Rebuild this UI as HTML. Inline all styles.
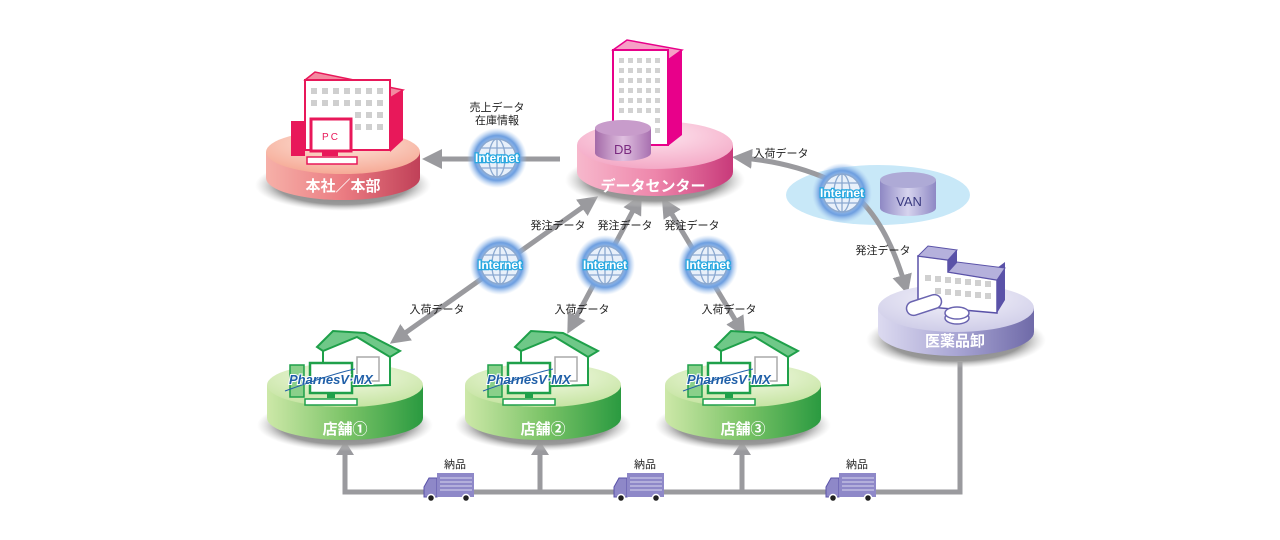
<!DOCTYPE html>
<html><head><meta charset="utf-8"><style>
body{margin:0;background:#fff}
svg{display:block}
text{font-family:"Liberation Sans","Noto Sans CJK JP",sans-serif}
</style></head><body>
<svg width="1280" height="540" viewBox="0 0 1280 540" xmlns="http://www.w3.org/2000/svg">
<defs>
<linearGradient id="gPinkSide" x1="0" x2="1"><stop offset="0" stop-color="#f7b8cc"/><stop offset=".5" stop-color="#ee86ab"/><stop offset="1" stop-color="#c83a7a"/></linearGradient>
<radialGradient id="gPinkTop" cx=".5" cy=".3" r=".7"><stop offset="0" stop-color="#fde4ee"/><stop offset="1" stop-color="#f4a9c6"/></radialGradient>
<linearGradient id="gRedSide" x1="0" x2="1"><stop offset="0" stop-color="#f6b0a8"/><stop offset=".5" stop-color="#eb7c82"/><stop offset="1" stop-color="#c04058"/></linearGradient>
<radialGradient id="gRedTop" cx=".5" cy=".3" r=".7"><stop offset="0" stop-color="#fde6dc"/><stop offset="1" stop-color="#f6aa96"/></radialGradient>
<linearGradient id="gGreenSide" x1="0" x2="1"><stop offset="0" stop-color="#cde8a8"/><stop offset=".5" stop-color="#7cc468"/><stop offset="1" stop-color="#2a9a40"/></linearGradient>
<radialGradient id="gGreenTop" cx=".5" cy=".3" r=".7"><stop offset="0" stop-color="#f4fae6"/><stop offset="1" stop-color="#c6e4a2"/></radialGradient>
<linearGradient id="gPurpSide" x1="0" x2="1"><stop offset="0" stop-color="#dcdaf0"/><stop offset=".5" stop-color="#a9a6d4"/><stop offset="1" stop-color="#6f6aa8"/></linearGradient>
<radialGradient id="gPurpTop" cx=".5" cy=".3" r=".7"><stop offset="0" stop-color="#f4f3fb"/><stop offset="1" stop-color="#cfcde8"/></radialGradient>
<radialGradient id="gShadow" cx=".5" cy=".5" r=".5"><stop offset="0" stop-color="#777"/><stop offset=".75" stop-color="#999"/><stop offset="1" stop-color="#ccc" stop-opacity="0"/></radialGradient>
<radialGradient id="gGlobe" cx=".5" cy=".5" r=".5"><stop offset="0" stop-color="#ffffff"/><stop offset=".45" stop-color="#bcd6f4"/><stop offset=".75" stop-color="#6e9fe0"/><stop offset="1" stop-color="#a8c8f0" stop-opacity="0"/></radialGradient>
<linearGradient id="gDB" x1="0" x2="1"><stop offset="0" stop-color="#a46aa8"/><stop offset=".5" stop-color="#e0c0e0"/><stop offset="1" stop-color="#a870b0"/></linearGradient>
<linearGradient id="gVAN" x1="0" x2="1"><stop offset="0" stop-color="#8e88c4"/><stop offset=".5" stop-color="#d6d3ee"/><stop offset="1" stop-color="#8e88c4"/></linearGradient>
<marker id="ah" viewBox="0 0 10 10" refX="5" refY="5" markerWidth="4" markerHeight="4" orient="auto-start-reverse"><path d="M0,0 L10,5 L0,10 z" fill="#9a9a9e"/></marker>
<g id="globe">
<circle r="30" fill="url(#gGlobe)"/>
<circle r="19" fill="#e8f0fa" stroke="#8aa8d0" stroke-width="1.5"/>
<ellipse rx="8" ry="19" fill="none" stroke="#8aa8d0" stroke-width="1.3"/>
<line x1="0" y1="-19" x2="0" y2="19" stroke="#8aa8d0" stroke-width="1.3"/>
<line x1="-19" y1="0" x2="19" y2="0" stroke="#8aa8d0" stroke-width="1.3"/>
<path d="M-16,-10 H16 M-16,10 H16" stroke="#8aa8d0" stroke-width="1.3"/>
<text x="0" y="4" text-anchor="middle" font-size="12" font-weight="bold" fill="#fff" stroke="#2aa8e0" stroke-width="2.6" paint-order="stroke">Internet</text>
</g>
<g id="store">
<ellipse cx="0" cy="40" rx="88" ry="26" fill="url(#gShadow)"/>
<path d="M-78,0 V33 A78,22 0 0 0 78,33 V0 Z" fill="url(#gGreenSide)"/>
<ellipse rx="78" ry="22" fill="url(#gGreenTop)"/>
<path d="M-22,-38 L12,-52 L45,-32 V0 L-22,2 Z" fill="#fff" stroke="#1fa04a" stroke-width="2"/>
<path d="M-28,-38 L-12,-54 L20,-52 L55,-34 L45,-28 L12,-48 L-22,-34 Z" fill="#6fc888" stroke="#1fa04a" stroke-width="2"/>
<rect x="12" y="-28" width="22" height="24" fill="#fff" stroke="#aaa" stroke-width="1.5"/>
<rect x="-55" y="-20" width="14" height="32" fill="#8ad08a" stroke="#1fa04a" stroke-width="1.5"/>
<rect x="-35" y="-22" width="42" height="30" fill="#fff" stroke="#1fa04a" stroke-width="2.5"/>
<rect x="-18" y="8" width="8" height="5" fill="#1fa04a"/>
<rect x="-40" y="14" width="52" height="6" fill="#fff" stroke="#1fa04a" stroke-width="1.5"/>
<text x="-56" y="-1" font-size="13" font-weight="bold" font-style="italic" fill="#1f5fa8" stroke="#fff" stroke-width="2" paint-order="stroke">PharnesV·MX</text>
<path d="M-60,6 Q-10,-12 10,-16" stroke="#1f5fa8" fill="none" stroke-width="1"/>
</g>
</defs>

<!-- connectors -->
<g stroke="#9a9a9e" stroke-width="5" fill="none">
<line x1="560" y1="159" x2="432" y2="159" marker-end="url(#ah)"/>
<line x1="398" y1="338" x2="590" y2="202" marker-start="url(#ah)" marker-end="url(#ah)"/>
<line x1="572" y1="325" x2="637" y2="203" marker-start="url(#ah)" marker-end="url(#ah)"/>
<line x1="740" y1="328" x2="667" y2="206" marker-start="url(#ah)" marker-end="url(#ah)"/>
<polyline points="345,452 345,492 960,492 960,362"/>
<line x1="540" y1="492" x2="540" y2="452"/>
<line x1="742" y1="492" x2="742" y2="452"/>
</g>
<g fill="#9a9a9e">
<path d="M336,455 L345,441 L354,455 Z"/><path d="M531,455 L540,441 L549,455 Z"/><path d="M733,455 L742,441 L751,455 Z"/>
</g>

<!-- VAN area -->
<ellipse cx="878" cy="195" rx="92" ry="30" fill="#c8e8f8"/>
<path d="M905,285 Q880,200 830,180 Q790,162 742,158" stroke="#9a9a9e" stroke-width="5" fill="none" marker-start="url(#ah)" marker-end="url(#ah)"/>

<!-- 本社 -->
<ellipse cx="343" cy="185" rx="88" ry="26" fill="url(#gShadow)"/>
<path d="M266,152 V178 A77,22 0 0 0 420,178 V152 Z" fill="url(#gRedSide)"/>
<ellipse cx="343" cy="152" rx="77" ry="22" fill="url(#gRedTop)"/>
<path d="M305,80 L315,72 L403,90 L390,98 Z" fill="#f38aa0" stroke="#e8185a" stroke-width="1.5"/>
<path d="M390,98 L403,90 V140 L390,152 Z" fill="#e8185a"/>
<rect x="305" y="80" width="85" height="70" fill="#fff" stroke="#e8185a" stroke-width="2"/>
<g fill="#cfcfcf">
<rect x="311" y="88" width="6" height="6"/><rect x="322" y="88" width="6" height="6"/><rect x="333" y="88" width="6" height="6"/><rect x="344" y="88" width="6" height="6"/><rect x="355" y="88" width="6" height="6"/><rect x="366" y="88" width="6" height="6"/><rect x="377" y="88" width="6" height="6"/>
<rect x="311" y="100" width="6" height="6"/><rect x="322" y="100" width="6" height="6"/><rect x="333" y="100" width="6" height="6"/><rect x="344" y="100" width="6" height="6"/><rect x="355" y="100" width="6" height="6"/><rect x="366" y="100" width="6" height="6"/><rect x="377" y="100" width="6" height="6"/>
<rect x="355" y="112" width="6" height="6"/><rect x="366" y="112" width="6" height="6"/><rect x="377" y="112" width="6" height="6"/>
<rect x="355" y="124" width="6" height="6"/><rect x="366" y="124" width="6" height="6"/><rect x="377" y="124" width="6" height="6"/>
</g>
<rect x="291" y="121" width="14" height="35" fill="#e8185a"/>
<rect x="311" y="119" width="40" height="32" fill="#fff" stroke="#e8185a" stroke-width="3"/>
<text x="331" y="140" text-anchor="middle" font-size="10" fill="#e8185a" letter-spacing="2">PC</text>
<rect x="322" y="151" width="16" height="5" fill="#e8185a"/>
<rect x="307" y="157" width="50" height="7" fill="#fff" stroke="#e8185a" stroke-width="1.5"/>
<text x="343" y="191" text-anchor="middle" font-size="15" font-weight="bold" fill="#fff">本社／本部</text>

<!-- データセンター -->
<ellipse cx="655" cy="180" rx="90" ry="28" fill="url(#gShadow)"/>
<path d="M577,145 V172 A78,24 0 0 0 733,172 V145 Z" fill="url(#gPinkSide)"/>
<ellipse cx="655" cy="145" rx="78" ry="24" fill="url(#gPinkTop)"/>
<path d="M613,50 L627,40 L682,50 L668,60 Z" fill="#f6a0c6" stroke="#e8008a" stroke-width="1.5"/>
<path d="M668,60 L682,50 V135 L668,146 Z" fill="#e8008a"/>
<rect x="613" y="50" width="55" height="95" fill="#fff" stroke="#e8008a" stroke-width="2"/>
<g fill="#d2d2d2">
<rect x="619" y="58" width="5" height="5"/><rect x="628" y="58" width="5" height="5"/><rect x="637" y="58" width="5" height="5"/><rect x="646" y="58" width="5" height="5"/><rect x="655" y="58" width="5" height="5"/>
<rect x="619" y="68" width="5" height="5"/><rect x="628" y="68" width="5" height="5"/><rect x="637" y="68" width="5" height="5"/><rect x="646" y="68" width="5" height="5"/><rect x="655" y="68" width="5" height="5"/>
<rect x="619" y="78" width="5" height="5"/><rect x="628" y="78" width="5" height="5"/><rect x="637" y="78" width="5" height="5"/><rect x="646" y="78" width="5" height="5"/><rect x="655" y="78" width="5" height="5"/>
<rect x="619" y="88" width="5" height="5"/><rect x="628" y="88" width="5" height="5"/><rect x="637" y="88" width="5" height="5"/><rect x="646" y="88" width="5" height="5"/><rect x="655" y="88" width="5" height="5"/>
<rect x="619" y="98" width="5" height="5"/><rect x="628" y="98" width="5" height="5"/><rect x="637" y="98" width="5" height="5"/><rect x="646" y="98" width="5" height="5"/><rect x="655" y="98" width="5" height="5"/>
<rect x="619" y="108" width="5" height="5"/><rect x="628" y="108" width="5" height="5"/><rect x="637" y="108" width="5" height="5"/><rect x="646" y="108" width="5" height="5"/><rect x="655" y="108" width="5" height="5"/>
<rect x="655" y="118" width="5" height="5"/><rect x="655" y="128" width="5" height="5"/>
</g>
<path d="M595,128 V153 A28,8 0 0 0 651,153 V128 Z" fill="url(#gDB)"/>
<ellipse cx="623" cy="128" rx="28" ry="8" fill="#c89ccb"/>
<text x="623" y="154" text-anchor="middle" font-size="13" fill="#7a2a80">DB</text>
<text x="653" y="191" text-anchor="middle" font-size="15" font-weight="bold" fill="#fff">データセンター</text>

<!-- VAN cylinder -->
<path d="M880,180 V208 A28,8 0 0 0 936,208 V180 Z" fill="url(#gVAN)"/>
<ellipse cx="908" cy="180" rx="28" ry="8" fill="#aeaad6"/>
<text x="909" y="206" text-anchor="middle" font-size="13" fill="#3a3a80">VAN</text>

<!-- 医薬品卸 -->
<ellipse cx="956" cy="340" rx="90" ry="28" fill="url(#gShadow)"/>
<path d="M878,308 V332 A78,24 0 0 0 1034,332 V308 Z" fill="url(#gPurpSide)"/>
<ellipse cx="956" cy="308" rx="78" ry="24" fill="url(#gPurpTop)"/>
<path d="M918,256 L928,246 L957,250 V262 L997,268 L1005,262 V300 L997,313 Z" fill="#5a52a8"/>
<path d="M918,256 L948,260 V272 L997,280 V313 L918,306 Z" fill="#fff" stroke="#5a52a8" stroke-width="1.5"/>
<path d="M918,256 L928,246 L957,250 L948,260 Z M948,272 L957,262 L1005,268 L997,280 Z" fill="#b5b1dc" stroke="#5a52a8" stroke-width="1"/>
<g fill="#d0d0d0">
<rect x="925" y="275" width="6" height="6"/><rect x="935" y="276" width="6" height="6"/><rect x="945" y="277" width="6" height="6"/><rect x="955" y="278" width="6" height="6"/><rect x="965" y="279" width="6" height="6"/><rect x="975" y="280" width="6" height="6"/><rect x="985" y="281" width="6" height="6"/>
<rect x="935" y="288" width="6" height="6"/><rect x="945" y="289" width="6" height="6"/><rect x="955" y="290" width="6" height="6"/><rect x="965" y="291" width="6" height="6"/><rect x="975" y="292" width="6" height="6"/><rect x="985" y="293" width="6" height="6"/>
</g>
<rect x="906" y="298" width="36" height="14" rx="7" transform="rotate(-18 924 305)" fill="#fff" stroke="#6a64b0" stroke-width="1.5"/>
<ellipse cx="957" cy="318" rx="12" ry="6" fill="#fff" stroke="#6a64b0" stroke-width="1.5"/>
<ellipse cx="957" cy="313" rx="12" ry="6" fill="#fff" stroke="#6a64b0" stroke-width="1.5"/>
<text x="955" y="346" text-anchor="middle" font-size="15" font-weight="bold" fill="#fff">医薬品卸</text>

<!-- stores -->
<use href="#store" x="345" y="385"/>
<use href="#store" x="543" y="385"/>
<use href="#store" x="743" y="385"/>
<g font-size="15" font-weight="bold" fill="#fff" text-anchor="middle">
<text x="345" y="434">店舗①</text><text x="543" y="434">店舗②</text><text x="743" y="434">店舗③</text>
</g>

<!-- globes -->
<use href="#globe" x="497" y="158"/>
<use href="#globe" x="842" y="193"/>
<use href="#globe" x="500" y="265"/>
<use href="#globe" x="605" y="265"/>
<use href="#globe" x="708" y="265"/>

<!-- labels -->
<g font-size="11" fill="#222" text-anchor="middle">
<text x="497" y="111">売上データ</text><text x="497" y="124">在庫情報</text>
<text x="558" y="229">発注データ</text><text x="625" y="229">発注データ</text><text x="692" y="229">発注データ</text>
<text x="437" y="313">入荷データ</text><text x="582" y="313">入荷データ</text><text x="729" y="313">入荷データ</text>
<text x="781" y="157">入荷データ</text>
<text x="883" y="254">発注データ</text>
<text x="455" y="468">納品</text><text x="645" y="468">納品</text><text x="857" y="468">納品</text>
</g>

<!-- trucks -->
<g id="truck">
<path d="M424,497 V487 L429,478 H437 V497 Z" fill="#8e88c8" stroke="#5a52a8" stroke-width="1"/>
<rect x="437" y="473" width="37" height="24" fill="#8e88c8"/>
<g stroke="#d8d6ee" stroke-width="1"><line x1="440" y1="478" x2="472" y2="478"/><line x1="440" y1="482" x2="472" y2="482"/><line x1="440" y1="486" x2="472" y2="486"/><line x1="440" y1="490" x2="472" y2="490"/></g>
<circle cx="431" cy="498" r="3.5" fill="#222" stroke="#fff" stroke-width="1.5"/>
<circle cx="466" cy="498" r="3.5" fill="#222" stroke="#fff" stroke-width="1.5"/>
</g>
<use href="#truck" x="190"/>
<use href="#truck" x="402"/>
</svg>
</body></html>
